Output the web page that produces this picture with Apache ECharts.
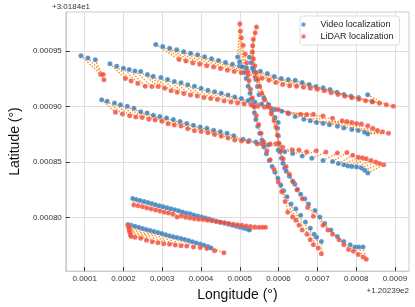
<!DOCTYPE html>
<html><head><meta charset="utf-8">
<script src="https://cdn.jsdelivr.net/npm/echarts@6/dist/echarts.min.js"></script>
<style>html,body{margin:0;padding:0;background:#fff}#c{width:415px;height:307px}</style>
</head><body><div id="c"></div>
<script>
// All values in micro-degrees (1e-6 deg), relative to the axis offsets
// lon offset +1.20239e2, lat offset +3.0184e1
const lonOffsetText = '+1.20239e2';
const latOffsetText = '+3.0184e1';
const xTicks = [100, 200, 300, 400, 500, 600, 700, 800, 900];
const yTicks = [800, 850, 900, 950];
const xRange = [51.2, 936.4];
const yRange = [751.8, 985.2];

const videoA = [[90.1,945.9],[108.2,943.8],[127.2,942.1]];
const lidarA = [[141.1,928.9],[147.8,928.9],[149.5,924.2]];

const videoB = [[165.1,938.5],[182.4,936.3],[199.7,934.6],[214.6,933.3],[229.5,932.0],[244.3,931.5],[261.6,928.9],[276.5,927.4],[296.3,926.2],[313.6,924.5],[330.9,922.7],[348.3,921.4],[365.6,919.6],[382.9,918.3],[400.2,916.5],[417.6,914.8],[434.9,913.4],[452.2,912.1],[469.5,910.4],[486.9,908.6],[504.2,907.3],[521.5,905.5],[538.9,904.2],[556.2,902.4],[573.5,900.7],[590.8,897.4],[608.2,895.8],[625.5,893.6],[642.8,891.0],[665.1,888.6],[681.7,887.2],[698.0,885.7],[714.6,884.8],[731.2,883.7],[751.7,882.2],[768.3,880.7],[788.8,879.3],[805.4,878.4],[821.7,876.9],[830.2,875.4]];
const lidarB = [[204.7,925.3],[219.6,923.1],[236.9,920.9],[255.9,918.3],[273.3,918.0],[289.6,918.0],[306.2,916.5],[322.8,914.2],[338.4,913.0],[355.7,911.7],[373.0,910.4],[390.4,909.5],[407.7,908.2],[425.0,907.3],[442.3,906.4],[459.7,905.1],[477.0,904.2],[494.3,903.3],[511.6,902.4],[529.0,901.6],[546.3,900.2],[563.6,899.4],[580.9,898.5],[599.0,897.4],[623.8,894.5],[656.9,893.0],[672.5,892.8],[689.8,893.0],[714.6,891.6],[739.3,889.5],[764.1,887.2],[776.4,886.6],[788.8,885.7],[801.2,884.8],[813.6,884.2],[830.2,882.8],[843.3,880.4],[855.0,878.4],[868.1,877.3],[883.7,876.0]];

const videoC = [[283.2,955.9],[301.2,954.2],[319.1,952.5],[337.1,951.1],[355.2,949.5],[373.0,948.1],[391.1,946.6],[409.1,944.9],[427.0,943.1],[445.0,941.6],[463.1,939.7],[480.9,938.2],[499.0,936.5],[517.1,934.9],[534.9,933.6],[553.0,931.8],[571.0,929.7],[588.9,927.1],[606.9,925.2],[625.0,924.3],[642.8,923.8],[660.9,921.6],[679.0,919.9],[696.8,918.2],[714.8,916.9],[732.9,915.3],[750.7,912.8],[768.8,910.8],[786.9,909.4],[806.2,908.2],[829.7,910.6],[840.8,904.8]];
const lidarC = [[343.3,942.3],[361.1,941.0],[379.0,939.3],[396.8,938.1],[414.6,936.8],[432.4,935.6],[450.2,934.3],[468.1,932.8],[485.9,931.7],[503.7,930.4],[521.5,928.4],[539.4,926.7],[557.2,925.5],[575.0,923.8],[592.8,921.6],[610.6,919.9],[628.5,918.7],[646.3,918.3],[664.1,917.4],[681.9,916.5],[699.8,915.5],[717.6,914.3],[735.4,912.5],[753.2,910.9],[771.0,909.3],[788.8,907.9],[806.7,906.7],[824.5,905.2],[842.3,904.2],[860.2,903.0],[878.0,901.7],[896.0,900.4]];

const videoD = [[143.6,906.2],[157.7,904.8],[176.7,903.3],[192.3,901.6],[209.7,900.2],[227.0,898.5],[244.3,895.4],[260.9,894.3],[277.2,892.1],[293.8,891.0],[311.1,889.7],[328.5,888.3],[345.8,886.6],[363.1,884.8],[380.4,883.1],[397.8,881.7],[415.1,880.4],[432.4,878.7],[449.8,877.3],[467.1,876.0],[484.4,873.8],[508.4,870.5],[524.0,869.4],[541.3,868.1],[556.2,866.8],[573.5,865.4],[599.0,860.8],[615.6,859.3],[636.1,857.8],[660.9,855.5],[685.6,853.4],[714.6,851.4],[739.3,850.5],[754.2,848.7],[768.3,847.6],[778.9,846.5],[788.8,846.1],[801.2,845.6],[813.6,844.6],[822.2,842.6],[830.2,840.2]];
const lidarD = [[179.2,894.8],[197.3,893.4],[215.8,891.7],[231.9,890.7],[248.0,890.1],[265.3,888.6],[281.4,887.9],[298.8,886.8],[314.9,884.6],[330.9,883.5],[348.3,882.5],[365.6,880.0],[382.9,878.2],[400.2,877.6],[417.6,876.4],[434.9,874.8],[452.2,873.2],[469.5,871.6],[486.9,869.9],[504.2,869.1],[521.5,868.3],[545.0,866.3],[561.1,865.2],[578.5,866.2],[593.3,866.6],[610.6,863.4],[635.4,861.2],[652.7,860.8],[672.5,859.3],[697.3,860.2],[722.0,859.0],[751.7,858.1],[776.4,858.6],[791.3,856.1],[805.4,854.4],[816.1,853.8],[826.0,853.1],[838.4,851.4],[850.7,850.0],[860.6,848.7],[871.3,847.6]];

const videoE = [[223.8,817.3],[233.2,816.2],[243.1,815.4],[253.0,814.5],[262.9,813.5],[272.8,812.6],[282.7,811.6],[292.6,810.7],[302.5,809.8],[312.4,808.8],[322.3,807.9],[332.2,807.0],[342.1,806.1],[352.0,805.1],[361.9,804.1],[371.8,803.4],[381.7,802.4],[391.6,801.4],[401.5,800.5],[411.4,799.6],[421.3,798.7],[431.2,797.7],[441.1,796.8],[451.0,795.9],[460.9,794.9],[470.8,794.1],[480.7,793.1],[490.6,792.2],[500.5,791.3],[510.4,790.5],[519.1,789.7],[524.8,788.8]];
const lidarE = [[227.0,811.3],[238.1,810.6],[249.3,809.8],[260.4,808.7],[271.5,807.8],[282.7,806.8],[293.8,806.0],[305.0,804.9],[316.1,804.1],[327.2,803.0],[338.4,800.5],[349.5,801.5],[360.6,800.4],[371.8,799.7],[382.9,799.0],[394.1,798.5],[405.2,798.2],[416.3,797.6],[427.5,797.1],[438.6,796.5],[449.8,795.9],[460.9,795.3],[472.0,794.6],[483.2,794.1],[494.3,793.6],[505.4,793.1],[516.6,792.4],[527.7,792.0],[538.9,791.6],[550.0,791.2],[558.7,791.2],[566.1,791.2]];

const videoF = [[211.4,793.8],[219.6,793.0],[229.5,792.2],[239.4,791.2],[249.3,790.2],[259.2,789.2],[269.1,788.3],[278.9,787.4],[288.9,786.5],[298.8,785.6],[308.7,784.6],[318.6,783.7],[328.5,782.8],[338.4,782.0],[348.3,781.1],[358.2,780.2],[368.1,779.3],[377.9,778.3],[387.9,777.2],[397.8,776.1],[407.7,775.0],[417.6,773.9],[425.7,772.7]];
const lidarF = [[212.1,792.8],[213.4,791.5],[214.6,790.1],[214.6,788.8],[215.8,787.5],[217.1,786.2],[218.3,784.4],[219.6,782.9],[229.5,782.2],[244.3,781.3],[259.2,779.6],[274.0,778.3],[288.9,777.4],[303.7,776.5],[318.6,775.9],[333.4,775.3],[348.3,774.7],[363.1,774.3],[380.4,773.6],[397.8,773.0],[415.1,772.1],[434.9,770.1],[458.9,768.3]];

const videoL = [[494.3,944.7],[499.2,940.3],[506.7,935.9],[511.6,930.6],[516.6,925.3],[521.5,918.3],[526.5,912.1],[529.0,906.8],[533.9,900.7],[537.6,894.5],[541.3,888.3],[546.3,882.2],[551.2,876.0],[557.4,869.9],[562.4,863.7],[568.6,857.5],[576.0,851.4],[583.4,846.1],[590.8,840.8],[598.3,835.5],[605.7,829.3],[613.1,824.1],[621.8,818.8],[632.2,812.3],[644.5,807.9],[656.9,802.0],[669.3,796.1],[681.7,790.3],[691.6,785.0],[698.0,782.4],[710.4,778.5]];
const lidarL = [[500.0,974.7],[501.7,967.9],[504.2,961.9],[508.6,955.3],[514.1,947.4],[517.8,939.4],[520.3,931.5],[524.0,923.6],[527.7,915.7],[532.6,907.7],[537.6,899.8],[542.5,891.9],[548.7,883.9],[554.9,876.0],[561.8,868.1],[569.8,860.2],[578.4,852.2],[588.3,843.4],[599.0,832.0],[608.1,823.2],[616.8,814.4],[623.7,804.9],[636.1,800.5],[644.5,797.6],[652.7,793.2],[660.9,788.8],[673.2,785.0],[681.7,780.0],[689.8,775.6],[702.2,772.7],[710.4,767.4]];

const videoR = [[524.8,944.5],[529.0,939.4],[532.6,935.0],[537.1,931.2],[541.3,924.5],[545.5,918.0],[549.5,910.6],[561.8,907.7],[574.2,901.8],[582.6,896.0],[590.8,890.1],[599.0,885.7],[597.5,880.4],[599.5,873.4],[601.2,866.3],[603.2,859.3],[607.4,853.4],[611.3,849.0],[615.6,844.6],[619.8,841.7],[627.9,837.3],[636.1,832.9],[642.0,830.0],[648.5,825.6],[656.9,821.1],[667.5,817.0],[677.4,812.2],[694.0,806.4],[706.4,800.5],[718.8,794.7],[735.1,788.8],[751.7,782.9],[768.3,778.5],[784.6,775.6],[797.0,773.6],[806.9,773.6],[817.8,773.6]];
const lidarR = [[543.1,971.8],[539.6,966.5],[534.7,960.6],[533.2,954.7],[532.6,949.1],[535.1,943.0],[538.9,936.8],[542.5,930.6],[546.3,924.5],[551.2,918.3],[556.2,912.1],[563.6,906.0],[572.3,899.8],[580.9,893.6],[588.3,887.5],[593.3,881.3],[597.0,874.3],[600.7,867.2],[605.7,860.2],[611.9,853.1],[619.3,846.1],[627.9,839.0],[637.9,832.0],[647.8,824.9],[661.4,817.0],[675.0,809.1],[689.8,801.2],[714.6,793.2],[727.0,788.8],[739.3,785.0],[755.9,780.0],[768.3,775.6],[780.7,771.2],[793.1,769.7],[805.4,766.8],[817.8,764.4],[826.0,762.4]];

const videoTracks = [videoA, videoB, videoC, videoD, videoE, videoF, videoL, videoR];
const lidarTracks = [lidarA, lidarB, lidarC, lidarD, lidarE, lidarF, lidarL, lidarR];

const videoAll = [].concat(...videoTracks);
const lidarAll = [].concat(...lidarTracks);
const pairLines = [];
videoTracks.forEach((vt, t) => {
  vt.forEach((p, i) => {
    const q = lidarTracks[t][i];
    if (q) pairLines.push({coords: [p, q]});
  });
});

const FONT = '"Liberation Sans", Arial, sans-serif';
const BLUE = '#2f7bbf';
const RED = '#f0483a';
const ORANGE = '#ff8a10';

const chart = echarts.init(document.getElementById('c'), null, {renderer: 'canvas'});
chart.setOption({
  animation: false,
  backgroundColor: '#ffffff',
  textStyle: {fontFamily: FONT},
  grid: {left: 52, top: 12, width: 357, height: 265, show: true, borderColor: '#cccccc', borderWidth: 1},
  xAxis: {
    type: 'value', min: xRange[0], max: xRange[1], splitNumber: 9,
    axisLine: {show: true, lineStyle: {color: '#cccccc', width: 1}},
    axisTick: {show: true, inside: true, length: 4, lineStyle: {color: '#333333', width: 1}, customValues: xTicks},
    axisLabel: {customValues: xTicks, fontSize: 8, color: '#333333', margin: 4, fontFamily: FONT,
      formatter: v => (v / 1e6).toFixed(4)},
    splitLine: {show: true, lineStyle: {color: '#dedede', width: 1}},
    name: 'Longitude (°)', nameLocation: 'middle', nameGap: 12,
    nameTextStyle: {fontSize: 14, color: '#111111', fontFamily: FONT}
  },
  yAxis: {
    type: 'value', min: yRange[0], max: yRange[1], splitNumber: 5,
    axisLine: {show: true, lineStyle: {color: '#cccccc', width: 1}},
    axisTick: {show: true, inside: true, length: 4, lineStyle: {color: '#333333', width: 1}, customValues: yTicks},
    axisLabel: {customValues: yTicks, fontSize: 8, color: '#333333', margin: 4, fontFamily: FONT,
      formatter: v => (v / 1e6).toFixed(5)},
    splitLine: {show: true, lineStyle: {color: '#dedede', width: 1}},
    name: 'Latitude (°)', nameLocation: 'middle', nameGap: 34, nameRotate: 90,
    nameTextStyle: {fontSize: 14, color: '#111111', fontFamily: FONT}
  },
  legend: {
    data: [{name: 'Video localization', icon: 'circle'}, {name: 'LiDAR localization', icon: 'circle'}],
    orient: 'vertical', left: 300, top: 16, itemWidth: 24, itemHeight: 5, itemGap: 3,
    padding: [4, 6, 4, 0], backgroundColor: 'rgba(255,255,255,0.85)',
    borderColor: '#dddddd', borderWidth: 1, borderRadius: 3,
    textStyle: {fontSize: 9, color: '#222222', fontFamily: FONT}
  },
  graphic: [
    {type: 'text', left: 52, top: 3, style: {text: latOffsetText, fontSize: 8, fill: '#333333', font: '8px ' + FONT}},
    {type: 'text', right: 6, top: 287, style: {text: lonOffsetText, fontSize: 8, fill: '#333333', font: '8px ' + FONT}}
  ],
  series: [
    {type: 'lines', coordinateSystem: 'cartesian2d', silent: true, z: 1, data: pairLines,
      lineStyle: {color: ORANGE, width: 1.4, type: [1.4, 1.6], opacity: 1}},
    {name: 'Video localization', type: 'scatter', z: 2, symbol: 'circle', symbolSize: 5, data: videoAll,
      itemStyle: {color: BLUE, borderColor: 'rgba(255,255,255,0.6)', borderWidth: 0.3}},
    {name: 'LiDAR localization', type: 'scatter', z: 3, symbol: 'circle', symbolSize: 5, data: lidarAll,
      itemStyle: {color: RED, borderColor: 'rgba(255,255,255,0.6)', borderWidth: 0.3}}
  ]
});
</script>
</body></html>
